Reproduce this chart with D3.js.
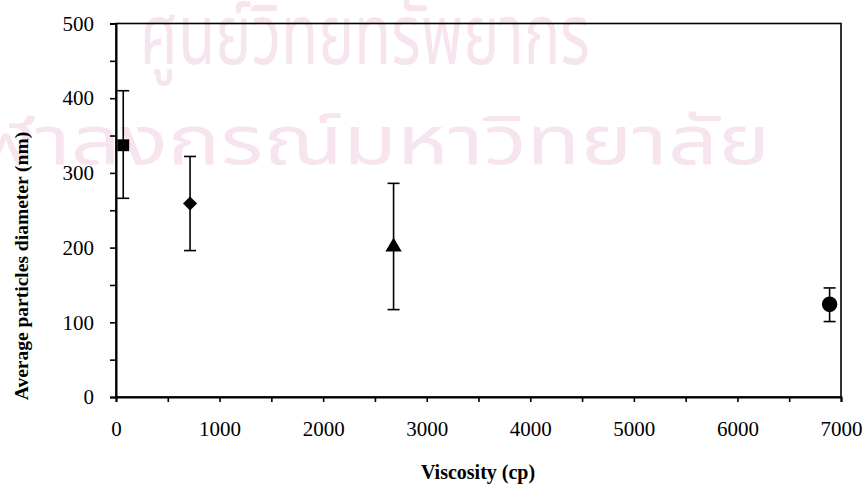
<!DOCTYPE html>
<html>
<head>
<meta charset="utf-8">
<script src="https://cdn.jsdelivr.net/npm/d3@7"></script>
<style>
  html, body { margin: 0; padding: 0; background: #fff; }
  svg { display: block; }
  svg text { font-family: "Liberation Serif", "Times New Roman", "DejaVu Serif", serif; }
  svg text.wm { font-family: "Noto Sans Thai", "Loma", "Garuda", "DejaVu Sans", sans-serif; }
</style>
</head>
<body>
<svg id="chart" width="864" height="489"></svg>
<script>
// ---- data ----
const viscosity = [70, 715, 2680, 6890];
const diameter  = [337, 259, 201, 124];
const errLow    = [266, 196, 117, 101];
const errHigh   = [410, 322, 286, 146];
const markers   = ["square", "diamond", "triangle", "circle"];
const xTicks = [0, 1000, 2000, 3000, 4000, 5000, 6000, 7000];
const yTicks = [0, 100, 200, 300, 400, 500];
const watermark = ["ศูนย์วิทยทรัพยากร", "จุฬาลงกรณ์มหาวิทยาลัย"];

const svg = d3.select("#chart");
const W = 864, H = 489;
const m = { left: 116, right: W - 841, top: 23.5, bottom: H - 397 };
const serif = '"Liberation Serif", "Times New Roman", serif';

const x = d3.scaleLinear().domain([0, 7000]).range([m.left, W - m.right]);
const y = d3.scaleLinear().domain([0, 500]).range([H - m.bottom, m.top]);

// watermark
const wm = svg.append("g").attr("fill", "#f6e4ee");
wm.append("text").attr("class", "wm").attr("x", 140).attr("y", 64).attr("font-size", 84)
  .attr("textLength", 450).attr("lengthAdjust", "spacingAndGlyphs").text(watermark[0]);
wm.append("text").attr("class", "wm").attr("x", -70).attr("y", 164).attr("font-size", 68)
  .attr("textLength", 840).attr("lengthAdjust", "spacingAndGlyphs").text(watermark[1]);

// frame
svg.append("rect").attr("x", x(0)).attr("y", y(500))
  .attr("width", x(7000) - x(0)).attr("height", y(0) - y(500))
  .attr("fill", "none").attr("stroke", "#000").attr("stroke-width", 1.6);

// axes
const xAxis = d3.axisBottom(x).tickValues(d3.range(0, 7001, 500))
  .tickSize(5).tickPadding(19).tickFormat(d => xTicks.includes(d) ? d : "");
const gx = svg.append("g").attr("transform", `translate(0,${y(0)})`).call(xAxis);
gx.attr("font-family", null).attr("font-size", null);
gx.select(".domain").attr("stroke-width", 2);
gx.selectAll(".tick line").attr("stroke-width", 1.6);
gx.selectAll(".tick text").style("font-family", serif)
  .style("font-size", "21px").attr("fill", "#000");

const yAxis = d3.axisLeft(y).tickValues(d3.range(0, 501, 50))
  .tickSize(6).tickPadding(16).tickFormat(d => yTicks.includes(d) ? d : "");
const gy = svg.append("g").attr("transform", `translate(${x(0)},0)`).call(yAxis);
gy.attr("font-family", null).attr("font-size", null);
gy.select(".domain").attr("stroke-width", 2);
gy.selectAll(".tick line").attr("stroke-width", 1.6);
gy.selectAll(".tick text").style("font-family", serif)
  .style("font-size", "21px").attr("fill", "#000");

// axis titles
svg.append("text").attr("x", 478).attr("y", 479)
  .attr("text-anchor", "middle").style("font-family", serif)
  .attr("font-weight", "bold").style("font-size", "20px").text("Viscosity (cp)");
svg.append("text")
  .attr("transform", `translate(28,266) rotate(-90)`)
  .attr("text-anchor", "middle").style("font-family", serif)
  .attr("font-weight", "bold").style("font-size", "19.5px").text("Average particles diameter (nm)");

// error bars
const idx = d3.range(viscosity.length);
const eb = svg.append("g").attr("stroke", "#000").attr("stroke-width", 1.6);
eb.selectAll("line.v").data(idx).join("line").attr("class", "v")
  .attr("x1", i => x(viscosity[i])).attr("x2", i => x(viscosity[i]))
  .attr("y1", i => y(errLow[i])).attr("y2", i => y(errHigh[i]));
const capW = 6;
eb.selectAll("line.t").data(idx).join("line").attr("class", "t")
  .attr("x1", i => x(viscosity[i]) - capW).attr("x2", i => x(viscosity[i]) + capW)
  .attr("y1", i => y(errHigh[i])).attr("y2", i => y(errHigh[i]));
eb.selectAll("line.b").data(idx).join("line").attr("class", "b")
  .attr("x1", i => x(viscosity[i]) - capW).attr("x2", i => x(viscosity[i]) + capW)
  .attr("y1", i => y(errLow[i])).attr("y2", i => y(errLow[i]));

// markers
const symMap = {
  square: [d3.symbolSquare, 140],
  diamond: [d3.symbolSquare, 100],
  triangle: [d3.symbolTriangle, 115],
  circle: [d3.symbolCircle, 190]
};
svg.append("g").selectAll("path").data(idx).join("path")
  .attr("transform", i => {
    const rot = markers[i] === "diamond" ? 45 : 0;
    return `translate(${x(viscosity[i])},${y(diameter[i])}) rotate(${rot})`;
  })
  .attr("d", i => d3.symbol(symMap[markers[i]][0], symMap[markers[i]][1])())
  .attr("fill", "#000");
</script>
</body>
</html>
